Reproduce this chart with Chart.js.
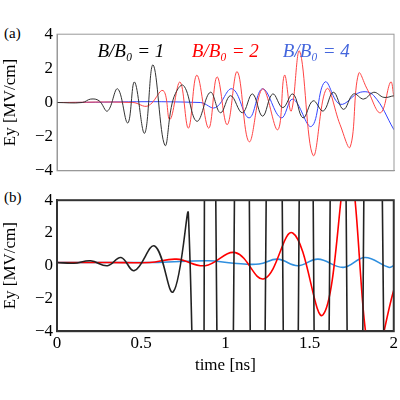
<!DOCTYPE html>
<html><head>
<script src="https://cdn.jsdelivr.net/npm/chart.js@4"></script>
<style>
body{margin:0;background:#fff;font-family:"Liberation Serif",serif}
.c{position:absolute;left:0;width:400px}
.lab{position:absolute;left:4px;font-size:15px}
</style></head><body>
<div class="lab" style="top:25px">(a)</div>
<div class="lab" style="top:189px">(b)</div>
<div class="c" style="top:20px;height:165px"><canvas id="ga"></canvas></div>
<div class="c" style="top:186px;height:190px"><canvas id="gb"></canvas></div>
<script>
// panel (a), t in ns, Ey in MV/cm
var tA1 = [0, 0.15, 0.2, 0.25, 0.3, 0.36, 0.42, 0.46, 0.52, 0.57, 0.64, 0.69, 0.75, 0.83, 0.91, 0.97, 1.03, 1.1, 1.16, 1.22, 1.28, 1.34, 1.4, 1.46, 1.52, 1.58, 1.64, 1.7, 1.76, 1.82, 1.88, 1.94, 2.0];
var yA1 = [0, 0, 0.2, 0.1, -0.5, 0.8, -1.2, 1.2, -1.8, 2.2, -2.5, 0.2, 1.0, -1.1, 0.6, -0.6, 0.4, -0.6, 0.5, -0.8, 0.5, -0.3, 0.5, -0.9, 0.1, -0.5, 0.6, -0.4, 0.5, 0.2, 0.6, 0.3, 0.4];
var tA2 = [0, 0.45, 0.54, 0.63, 0.67, 0.73, 0.78, 0.83, 0.9, 0.95, 1.01, 1.07, 1.14, 1.22, 1.31, 1.35, 1.39, 1.44, 1.52, 1.6, 1.68, 1.74, 1.79, 1.84, 1.92, 1.98, 2.0];
var yA2 = [0, 0, -0.2, 0.7, -1.0, 1.2, -1.5, 1.6, -1.5, 1.5, -1.3, 1.8, -2.3, 0.8, -1.6, 1.6, -0.5, 3.0, -3.1, 0.8, -1.3, -2.6, 1.7, 0.8, -0.6, 1.2, 0.3];
var tA4 = [0, 0.85, 0.94, 1.04, 1.14, 1.22, 1.33, 1.4, 1.51, 1.59, 1.68, 1.8, 1.88, 2.0];
var yA4 = [0, 0, -0.3, 0.8, -0.9, 0.8, -0.9, 0.2, -1.4, 1.2, -0.1, 0.6, 0.4, -1.6];
// panel (b)
var tB1 = [0, 0.1, 0.2, 0.3, 0.38, 0.46, 0.58, 0.69, 0.78, 0.85, 0.9, 1.0, 1.1, 1.19, 1.29, 1.39, 1.48, 1.57, 1.67, 1.77, 1.87, 1.98];
var yB1 = [0.2, 0.15, 0.3, 0.0, 0.5, -0.3, 1.2, -1.6, 3.2, -40, 40, -40, 40, -40, 40, -40, 40, -40, 40, -40, 40, -40];
var tB2 = [0, 0.3, 0.55, 0.71, 0.88, 1.06, 1.23, 1.4, 1.58, 1.73, 1.87, 2.0];
var yB2 = [0.2, 0.2, 0.2, 0.4, 0.0, 0.8, -0.8, 2.0, -3.0, 6.0, -6.0, -1.5];
var tB4 = [0, 0.3, 0.6, 0.9, 1.05, 1.2, 1.31, 1.43, 1.55, 1.7, 1.83, 1.97, 2.0];
var yB4 = [0.2, 0.2, 0.2, 0.3, 0.15, 0.1, 0.4, 0.0, 0.4, -0.1, 0.5, -0.1, 0.0];
var yTicks = [-4, -2, 0, 2, 4];
var xTicks = [0, 0.5, 1, 1.5, 2];
var legendText = ['B/B\u2080 = 1', 'B/B\u2080 = 2', 'B/B\u2080 = 4'];

Chart.defaults.font.family = 'Liberation Serif';
Chart.defaults.font.size = 17;
Chart.defaults.color = '#000';

function pts(t, y) { return t.map(function (v, i) { return {x: v, y: y[i]}; }); }
function ds(t, y, col, w) {
	return {data: pts(t, y), borderColor: col, borderWidth: w, pointRadius: 0, tension: 0.4, fill: false};
}
var font = {family: 'Liberation Serif', size: 17};

function opts(showX, boxCol, boxW, padBottom) {
	return {
		animation: false, responsive: true, maintainAspectRatio: false,
		layout: {padding: {right: 6, top: 4, bottom: padBottom}},
		plugins: {legend: {display: false}, tooltip: {enabled: false}},
		scales: {
			x: {type: 'linear', min: 0, max: 2,
				afterBuildTicks: function (a) { a.ticks = xTicks.map(function (v) { return {value: v}; }); },
				ticks: {display: showX, font: font, padding: 2, callback: function (v) { return String(v); }},
				grid: {display: false, drawTicks: false}, border: {color: boxCol, width: boxW},
				title: {display: showX, text: 'time [ns]', font: font, padding: 0}},
			y: {min: -4, max: 4,
				afterBuildTicks: function (a) { a.ticks = yTicks.map(function (v) { return {value: v}; }); },
				afterFit: function (a) { a.width = 57; },
				ticks: {font: font, padding: 4, callback: function (v) { return v < 0 ? '\u2212' + (-v) : String(v); }},
				grid: {display: false, drawTicks: false}, border: {color: boxCol, width: boxW},
				title: {display: true, text: 'Ey [MV/cm]', font: font, padding: 0}}
		}
	};
}
function boxPlugin(col, w) {
	return {id: 'box', afterDraw: function (c) {
		var a = c.chartArea, x = c.ctx;
		x.save(); x.strokeStyle = col; x.lineWidth = w;
		x.strokeRect(a.left, a.top, a.right - a.left, a.bottom - a.top); x.restore();
	}};
}
var legendPlugin = {id: 'lg', afterDraw: function (c) {
	var a = c.chartArea, x = c.ctx, cols = ['#000', '#f00', '#4466dd'], xs = [0.12, 0.4, 0.67];
	x.save(); x.font = 'italic 19px "Liberation Serif"'; x.textBaseline = 'top';
	legendText.forEach(function (s, i) { x.fillStyle = cols[i]; x.fillText(s, a.left + xs[i] * (a.right - a.left), a.top + 8); });
	x.restore();
}};

new Chart(document.getElementById('ga'), {
	type: 'line',
	data: {datasets: [ds(tA1, yA1, '#333', 1), ds(tA2, yA2, '#ff4444', 1), ds(tA4, yA4, '#3344ff', 1)]},
	options: opts(false, '#999', 1, 5),
	plugins: [boxPlugin('#999', 1), legendPlugin]
});
new Chart(document.getElementById('gb'), {
	type: 'line',
	data: {datasets: [ds(tB1, yB1, '#222', 1.6), ds(tB2, yB2, '#f00', 1.6), ds(tB4, yB4, '#2f8fdf', 1.6)]},
	options: opts(true, '#333', 2, 0),
	plugins: [boxPlugin('#333', 2)]
});
</script>
</body></html>
